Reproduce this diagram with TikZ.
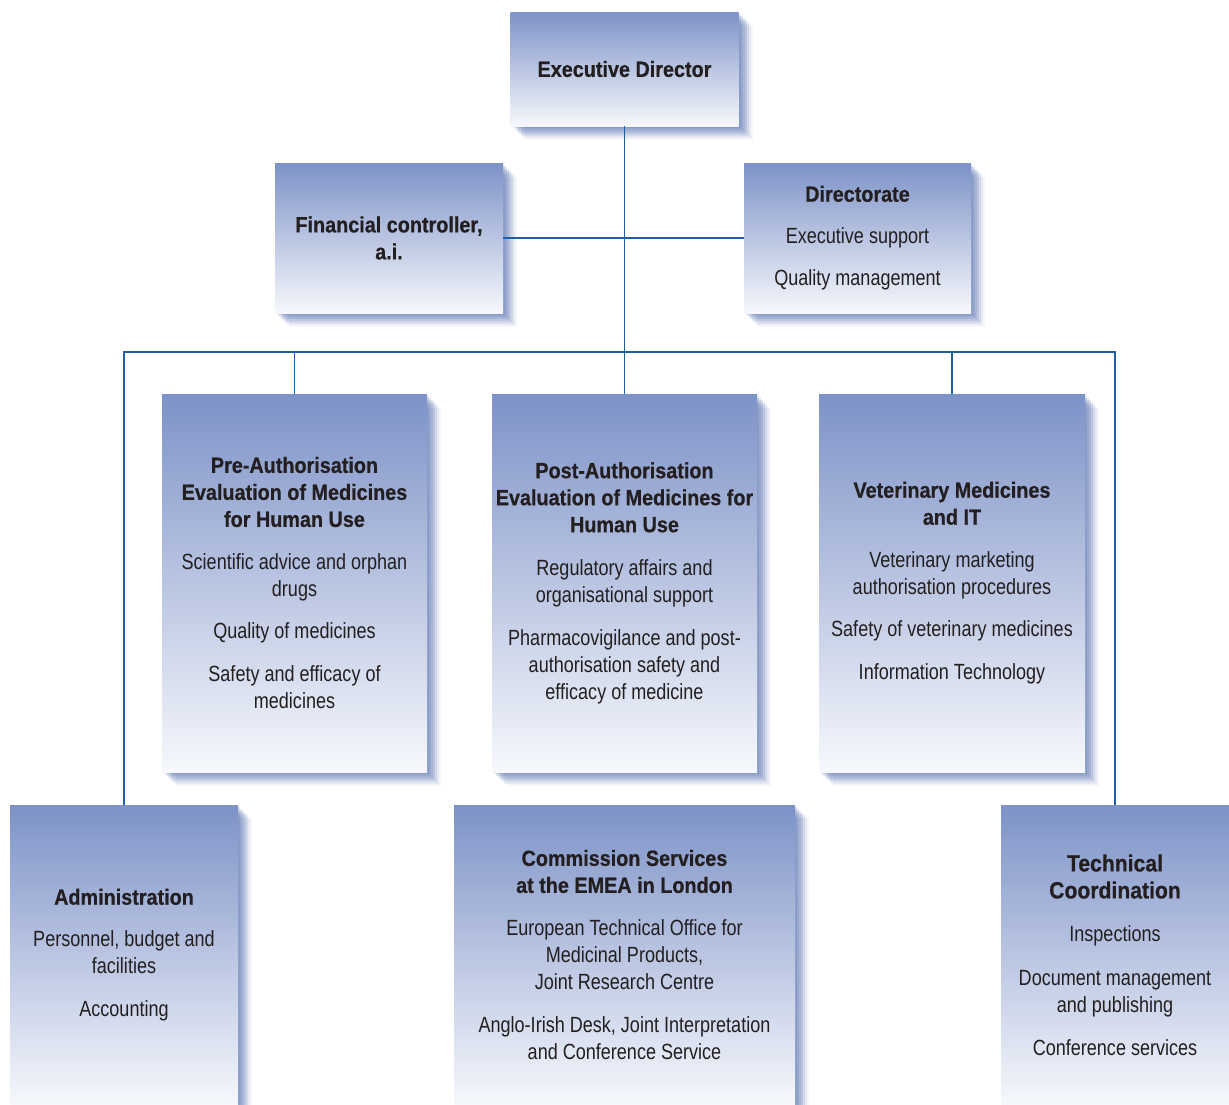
\documentclass[tikz,border=0pt]{standalone}
\usepackage{fontspec}
\setmainfont[FakeStretch=0.82,BoldFeatures={FakeStretch=0.9,FakeBold=0.6}]{Liberation Sans}
\usepackage{tikz}
\usetikzlibrary{shadows}

\definecolor{boxtop}{RGB}{125,146,199}
\definecolor{boxbot}{RGB}{246,248,252}
\definecolor{shadowblue}{RGB}{60,92,165}
\definecolor{linkblue}{RGB}{30,94,166}
\definecolor{textgray}{RGB}{35,31,32}

\newcommand{\hd}[1]{\textbf{#1}}
\newcommand{\orgfont}{\fontsize{22}{27}\selectfont}

\tikzset{
  orgbox/.style={rectangle, inner sep=0pt, align=center, text=textgray,
    font=\orgfont, top color=boxtop, bottom color=boxbot,
    general shadow={fill=shadowblue, opacity=.15, shadow xshift=2pt, shadow yshift=-2pt},
    general shadow={fill=shadowblue, opacity=.15, shadow xshift=4pt, shadow yshift=-4pt},
    general shadow={fill=shadowblue, opacity=.15, shadow xshift=6pt, shadow yshift=-6pt},
    general shadow={fill=shadowblue, opacity=.14, shadow xshift=8pt, shadow yshift=-8pt},
    general shadow={fill=shadowblue, opacity=.12, shadow xshift=10pt, shadow yshift=-10pt},
    general shadow={fill=shadowblue, opacity=.08, shadow xshift=12pt, shadow yshift=-12pt},
    general shadow={fill=shadowblue, opacity=.05, shadow xshift=14pt, shadow yshift=-14pt}},
  link/.style={draw=linkblue, line width=1.2pt},
}

\begin{document}
\begin{tikzpicture}[x=1pt,y=-1pt]
  \useasboundingbox[fill=white] (0,0) rectangle (1229,1104);

  %Shape: Rectangle [exec]
  \node[orgbox, minimum width=228pt, minimum height=114pt] (exec) at (624.5,69)
    {\hd{Executive Director}};
  %Shape: Rectangle [fin]
  \node[orgbox, minimum width=228pt, minimum height=150pt] (fin) at (389,238)
    {\hd{Financial controller,}\\\hd{a.i.}};
  %Shape: Rectangle [dir]
  \node[orgbox, minimum width=227pt, minimum height=150pt] (dir) at (857.5,238)
    {\hd{Directorate}\\[15pt]Executive support\\[15pt]Quality management};

  %Shape: Rectangle [pre]
  \node[orgbox, minimum width=265pt, minimum height=378pt] (pre) at (294.5,583)
    {\hd{Pre-Authorisation}\\\hd{Evaluation of Medicines}\\\hd{for Human Use}\\[16pt]
     Scientific advice and orphan\\drugs\\[15pt]
     Quality of medicines\\[16pt]
     Safety and efficacy of\\medicines};
  %Shape: Rectangle [post]
  \node[orgbox, minimum width=265pt, minimum height=378pt] (post) at (624.5,583)
    {\hd{Post-Authorisation}\\\hd{Evaluation of Medicines for}\\\hd{Human Use}\\[16pt]
     Regulatory affairs and\\organisational support\\[16pt]
     Pharmacovigilance and post-\\authorisation safety and\\efficacy of medicine};
  %Shape: Rectangle [vet]
  \node[orgbox, minimum width=266pt, minimum height=378pt] (vet) at (952,583)
    {\hd{Veterinary Medicines}\\\hd{and IT}\\[16pt]
     Veterinary marketing\\authorisation procedures\\[15pt]
     Safety of veterinary medicines\\[16pt]
     Information Technology};

  %Shape: Rectangle [admin]
  \node[orgbox, minimum width=228pt, minimum height=300pt] (admin) at (124,955)
    {\hd{Administration}\\[15pt]
     Personnel, budget and\\facilities\\[16pt]
     Accounting};
  %Shape: Rectangle [comm]
  \node[orgbox, minimum width=341pt, minimum height=300pt] (comm) at (624.5,955)
    {\hd{Commission Services}\\\hd{at the EMEA in London}\\[16pt]
     European Technical Office for\\Medicinal Products,\\Joint Research Centre\\[16pt]
     Anglo-Irish Desk, Joint Interpretation\\and Conference Service};
  %Shape: Rectangle [tech]
  \node[orgbox, minimum width=228pt, minimum height=300pt] (tech) at (1115,955)
    {\fontsize{23.5}{28}\selectfont\hd{Technical}\\\fontsize{23.5}{28}\selectfont\hd{Coordination}\\[16pt]
     Inspections\\[17pt]
     Document management\\and publishing\\[16pt]
     Conference services};

  %Lines
  \coordinate (bus) at (624.5,352);
  \draw[link] (exec) -- (post);
  \draw[link] (fin) -- (dir);
  \draw[link] (admin.north) -- (admin.north |- bus) -- (tech.north |- bus) -- (tech.north);
  \draw[link] (pre.north) -- (pre.north |- bus);
  \draw[link] (vet.north) -- (vet.north |- bus);
\end{tikzpicture}
\end{document}
